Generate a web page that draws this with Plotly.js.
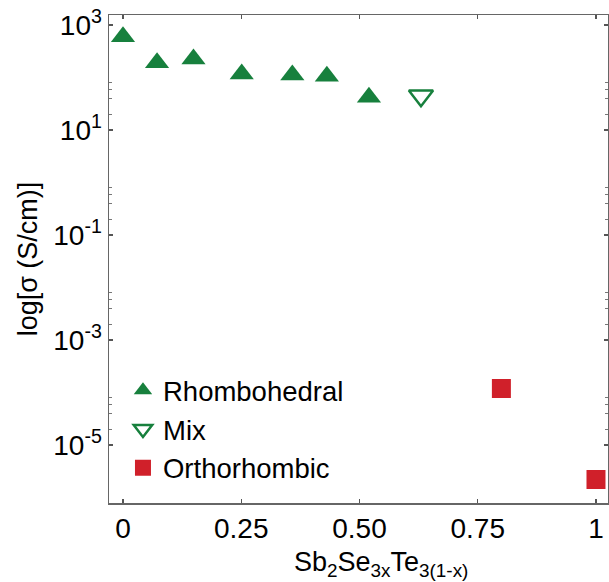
<!DOCTYPE html>
<html>
<head>
<meta charset="utf-8">
<script src="https://cdn.plot.ly/plotly-3.0.1.min.js"></script>
<style>html,body{margin:0;padding:0;background:#fff;}#chart{width:609px;height:582px;}</style>
</head>
<body>
<div id="chart"></div>
<script>
// Data
const rhomboX = [0, 0.072, 0.149, 0.251, 0.358, 0.431, 0.52];
const rhomboY = [596, 190, 224, 116, 112, 105, 42];
const mixX = [0.63];
const mixY = [45];
const orthoX = [0.8, 1.0];
const orthoY = [1.19e-4, 2.2e-6];

const yTickVals = [1e3, 1e1, 1e-1, 1e-3, 1e-5];
const yTickText = ['10<sup>3</sup>', '10<sup>1</sup>', '10<sup>-1</sup>', '10<sup>-3</sup>', '10<sup>-5</sup>'];
const yMinorVals = [20, 40, 60, 80, 0.2, 0.4, 0.6, 0.8, 2e-3, 4e-3, 6e-3, 8e-3, 2e-5, 4e-5, 6e-5, 8e-5];
const xTickVals = [0, 0.25, 0.5, 0.75, 1];
const xTickText = ['0', '0.25', '0.50', '0.75', '1'];
const xTitle = 'Sb<sub>2</sub>Se<sub>3x</sub>Te<sub>3(1-x)</sub>';
const yTitle = 'log[σ (S/cm)]';

const green = '#17803d';
const red = '#d0202a';
const font = 'Liberation Sans, Arial, sans-serif';

const traces = [
  {x: rhomboX, y: rhomboY, type: 'scatter', mode: 'markers', name: 'Rhombohedral',
   marker: {symbol: 'triangle-up', size: 21, color: green, line: {width: 0}}},
  {x: mixX, y: mixY, type: 'scatter', mode: 'markers', name: 'Mix',
   marker: {symbol: 'triangle-down-open', size: 21, color: green, line: {width: 2.5, color: green}}},
  {x: orthoX, y: orthoY, type: 'scatter', mode: 'markers', name: 'Orthorhombic',
   marker: {symbol: 'square', size: 19, color: red, line: {width: 0}}}
];

const layout = {
  width: 609, height: 582,
  margin: {l: 109, r: 1, t: 15, b: 79},
  paper_bgcolor: '#fff', plot_bgcolor: '#fff',
  font: {family: font, size: 28, color: '#000'},
  showlegend: true,
  legend: {x: 0.028, y: 0.281, xanchor: 'left', yanchor: 'top', bgcolor: 'rgba(0,0,0,0)',
           font: {family: font, size: 27.5, color: '#000'}, traceorder: 'normal',
           itemsizing: 'trace'},
  xaxis: {
    range: [-0.0296, 1.0254], tickvals: xTickVals, ticktext: xTickText,
    ticks: 'inside', ticklen: 4, tickwidth: 1.2, tickcolor: '#555',
    showline: true, linecolor: '#666', linewidth: 1.5, mirror: 'ticks',
    showgrid: false, zeroline: false,
    tickfont: {family: font, size: 28, color: '#000'}
  },
  yaxis: {
    type: 'log', range: [-6.105, 3.19], tickvals: yTickVals, ticktext: yTickText,
    ticks: 'inside', ticklen: 4, tickwidth: 1.2, tickcolor: '#555',
    minor: {tickvals: yMinorVals, ticks: 'inside', ticklen: 3, tickwidth: 1, tickcolor: '#777', showgrid: false},
    showline: true, linecolor: '#666', linewidth: 1.5, mirror: 'ticks',
    showgrid: false, zeroline: false,
    tickfont: {family: font, size: 28, color: '#000'},
    title: {text: yTitle, font: {family: font, size: 27, color: '#000'}, standoff: 8}
  },
  annotations: [
    {text: xTitle, xref: 'paper', yref: 'paper', x: 0.545, y: -0.126, xanchor: 'center', yanchor: 'middle',
     showarrow: false, font: {family: font, size: 27, color: '#000'}}
  ]
};

Plotly.newPlot('chart', traces, layout, {displayModeBar: false, staticPlot: true});
</script>
</body>
</html>
